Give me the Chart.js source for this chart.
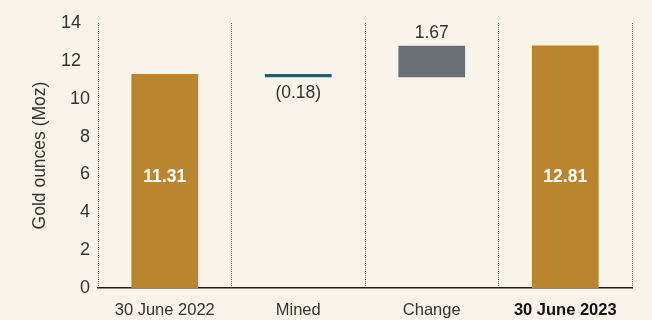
<!DOCTYPE html>
<html>
<head>
<meta charset="utf-8">
<script src="https://cdn.jsdelivr.net/npm/chart.js@4/dist/chart.umd.min.js"></script>
<style>
  html, body { margin: 0; padding: 0; background: #f8f4ea; }
  #wrap { width: 652px; height: 320px; }
</style>
</head>
<body>
<div id="wrap"><canvas id="c" width="652" height="320"></canvas></div>
<script>
// Gold ounces reconciliation (Moz)
const categories = ['30 June 2022', 'Mined', 'Change', '30 June 2023'];
const opening = 11.31;
const mined = -0.18;
const change = 1.67;
const closing = 12.81;
const valueLabels = ['11.31', '(0.18)', '1.67', '12.81'];
const yTicks = [0, 2, 4, 6, 8, 10, 12, 14];
const yTickLabels = ['0', '2', '4', '6', '8', '10', '12\u2002', '14\u2002'];

const GOLD = '#bb852f';
const TEAL = '#1f6070';
const GREY = '#687074';
const FONT = '"Liberation Sans", Arial, Helvetica, sans-serif';

// floating bars: each step starts where the previous one ended
const afterMined = opening + mined;
const ranges = [
  [0, opening],
  [afterMined, opening],
  [afterMined, afterMined + change],
  [0, closing]
];
const colors = [GOLD, TEAL, GREY, GOLD];

const labelPlugin = {
  id: 'valueLabels',
  afterDatasetsDraw(chart) {
    const { ctx } = chart;
    const meta = chart.getDatasetMeta(0);
    const y = chart.scales.y;
    ctx.save();
    ctx.textAlign = 'center';
    ctx.textBaseline = 'middle';
    meta.data.forEach((bar, i) => {
      const [lo, hi] = ranges[i];
      if (i === 0 || i === 3) {
        ctx.font = 'bold 17.5px ' + FONT;
        ctx.fillStyle = '#ffffff';
        ctx.fillText(valueLabels[i], bar.x, y.getPixelForValue(5.85));
      } else if (i === 1) {
        ctx.font = '17.5px ' + FONT;
        ctx.fillStyle = '#333333';
        ctx.fillText(valueLabels[i], bar.x, y.getPixelForValue(lo) + 16);
      } else {
        ctx.font = '17.5px ' + FONT;
        ctx.fillStyle = '#333333';
        ctx.fillText(valueLabels[i], bar.x, y.getPixelForValue(hi) - 13);
      }
    });
    ctx.restore();
  }
};

new Chart(document.getElementById('c'), {
  type: 'bar',
  data: {
    labels: categories,
    datasets: [{
      data: ranges,
      backgroundColor: colors,
      borderWidth: 0,
      borderSkipped: false,
      barPercentage: 0.5,
      categoryPercentage: 1
    }]
  },
  options: {
    responsive: false,
    animation: false,
    devicePixelRatio: 1,
    layout: { padding: { top: 23, right: 20, left: 0, bottom: 0 } },
    plugins: { legend: { display: false }, tooltip: { enabled: false } },
    scales: {
      x: {
        grid: {
          display: true,
          offset: true,
          drawTicks: false,
          color: (c) => c.index === 4 ? '#222222' : '#5a5a5a',
          lineWidth: 1
        },
        border: { display: true, color: '#1a1a1a', width: 1.5, dash: [1, 1] },
        ticks: {
          padding: 13,
          color: (c) => c.index === 3 ? '#111111' : '#333333',
          font: (c) => ({ family: FONT, size: 16.5, weight: c.index === 3 ? 'bold' : 'normal' })
        },
        afterFit(s) { s.height = 32; }
      },
      y: {
        min: 0,
        max: 14,
        afterBuildTicks(s) { s.ticks = yTicks.map(v => ({ value: v })); },
        grid: { display: false, drawTicks: false },
        border: { display: false },
        ticks: {
          padding: 8,
          color: '#333333',
          font: { family: FONT, size: 18 },
          callback: (v) => yTickLabels[yTicks.indexOf(v)]
        },
        title: {
          display: true,
          text: 'Gold ounces (Moz)',
          color: '#333333',
          font: { family: FONT, size: 17.5 },
          padding: { top: 30, bottom: 0 }
        },
        afterFit(s) { s.width = 98; }
      }
    }
  },
  plugins: [labelPlugin]
});
</script>
</body>
</html>
